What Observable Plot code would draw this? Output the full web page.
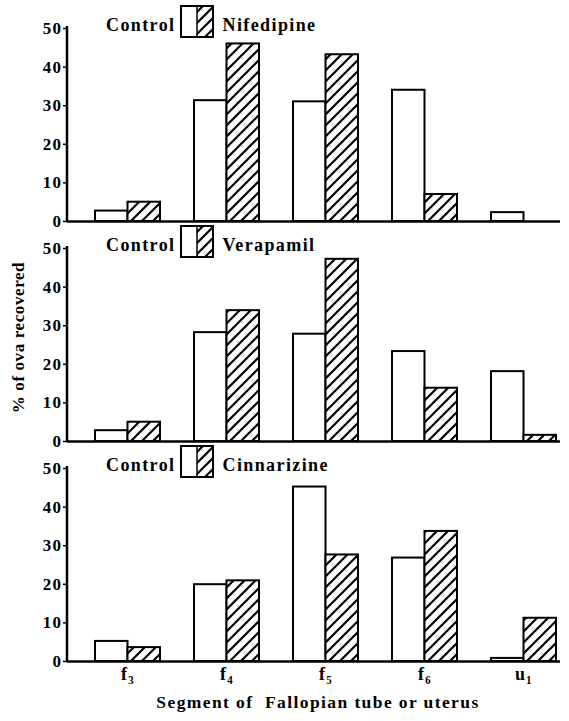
<!DOCTYPE html>
<html>
<head>
<meta charset="utf-8">
<script src="https://cdn.jsdelivr.net/npm/d3@7"></script>
<script src="https://cdn.jsdelivr.net/npm/@observablehq/plot@0.6"></script>
<style>
  html, body { margin: 0; padding: 0; background: #fff; }
  svg text { font-family: "Liberation Serif", serif !important; font-weight: bold !important; }
</style>
</head>
<body>
<div id="chart"></div>
<script>
// ---- data ----
const categories = ["f3", "f4", "f5", "f6", "u1"];
const tickLabels = ["f₃", "f₄", "f₅", "f₆", "u₁"];
const panels = ["Nifedipine", "Verapamil", "Cinnarizine"];
const control1 = [2.7, 31.3, 31.0, 34.0, 2.3];
const nifedipine = [5.0, 46.0, 43.2, 7.0, 0];
const control2 = [2.8, 28.2, 27.8, 23.3, 18.1];
const verapamil = [5.0, 33.9, 47.2, 13.8, 1.6];
const control3 = [5.2, 19.9, 45.2, 26.8, 0.8];
const cinnarizine = [3.6, 20.9, 27.6, 33.7, 11.2];
const yTicks = [0, 10, 20, 30, 40, 50];
const yLabel = "% of ova recovered";
const xLabel = "Segment of  Fallopian tube or uterus";

const FONT = "Liberation Serif";

const controlSeries = [control1, control2, control3];
const drugSeries = [nifedipine, verapamil, cinnarizine];
const controlRows = [], drugRows = [];
panels.forEach((p, i) => {
  categories.forEach((c, j) => {
    controlRows.push({panel: p, cat: c, value: controlSeries[i][j]});
    drugRows.push({panel: p, cat: c, value: drugSeries[i][j]});
  });
});
const labelMap = new Map(categories.map((c, i) => [c, tickLabels[i]]));

const svg = Plot.plot({
  width: 569,
  height: 721,
  marginLeft: 67,
  marginRight: 9,
  marginTop: 28,
  marginBottom: 60,
  style: `background: white; overflow: visible; font-family: ${FONT}; font-weight: bold;`,
  fy: {domain: panels, axis: null, paddingInner: 0.123, paddingOuter: 0},
  x: {type: "band", domain: categories, range: [77, 574], padding: 0},
  y: {domain: [0, 50]},
  marks: [
    Plot.barY(controlRows, {x: "cat", y: "value", fy: "panel", fill: "white", stroke: "black", strokeWidth: 2, insetLeft: 17, insetRight: 49.5}),
    Plot.barY(drugRows.filter(d => d.value > 0), {x: "cat", y: "value", fy: "panel", fill: "url(#hatch)", stroke: "black", strokeWidth: 2, insetLeft: 49.5, insetRight: 17}),
    Plot.ruleY([0], {stroke: "black", strokeWidth: 2.5}),
    Plot.axisY({ticks: yTicks, tickSize: 4, tickPadding: 1, fontSize: 17, fontFamily: FONT, fontWeight: "bold", strokeWidth: 1.5, label: null}),
    Plot.axisX({tickSize: 0, tickPadding: 6, fontSize: 18, fontFamily: FONT, fontWeight: "bold", tickFormat: d => labelMap.get(d), label: null}),
    Plot.text([xLabel], {frameAnchor: "bottom", fy: () => panels[2], dy: 41, dx: 4, fontSize: 17.5, fontFamily: FONT, fontWeight: "bold", lineAnchor: "middle"}),
    Plot.text(panels, {fy: d => d, text: () => "Control", frameAnchor: "top-left", dx: 108, dy: -3, textAnchor: "end", fontSize: 18, fontFamily: FONT, fontWeight: "bold", lineAnchor: "middle"}),
    Plot.text(panels, {fy: d => d, text: d => d, frameAnchor: "top-left", dx: 155, dy: -3, textAnchor: "start", fontSize: 18, fontFamily: FONT, fontWeight: "bold", lineAnchor: "middle"})
  ]
});

const s = d3.select(svg);
svg.querySelectorAll("text").forEach(t => {
  const prev = t.getAttribute("style") || "";
  t.setAttribute("style", prev + ";font-family:'Liberation Serif',serif;font-weight:bold;letter-spacing:1.4px");
});

// hatch pattern
const defs = s.insert("defs", ":first-child");
const pat = defs.append("pattern").attr("id", "hatch").attr("patternUnits", "userSpaceOnUse")
  .attr("width", 11).attr("height", 11);
pat.append("rect").attr("width", 11).attr("height", 11).attr("fill", "white");
pat.append("path").attr("d", "M-2.75,2.75L2.75,-2.75M0,11L11,0M8.25,13.75L13.75,8.25")
  .attr("stroke", "black").attr("stroke-width", 2.2);

const fy = svg.scale("fy");
const y = svg.scale("y");
const off = p => fy.apply(p) - fy.apply(panels[0]);
panels.forEach(p => {
  const o = off(p);
  const top = y.apply(50) + o;
  const g = s.append("g");
  g.append("line").attr("x1", 67).attr("x2", 67)
    .attr("y1", top - 2).attr("y2", y.apply(0) + o)
    .attr("stroke", "black").attr("stroke-width", 2.5);
  g.append("rect").attr("x", 181).attr("y", top - 22).attr("width", 16).attr("height", 31)
    .attr("fill", "white");
  g.append("rect").attr("x", 197).attr("y", top - 22).attr("width", 16).attr("height", 31)
    .attr("fill", "url(#hatch)");
  g.append("rect").attr("x", 181).attr("y", top - 22).attr("width", 32).attr("height", 31)
    .attr("fill", "none").attr("stroke", "black").attr("stroke-width", 2);
  g.append("line").attr("x1", 197).attr("x2", 197).attr("y1", top - 22).attr("y2", top + 9)
    .attr("stroke", "black").attr("stroke-width", 1.5);
});

// y-axis title, centred on the stack of panels
const yMid = (y.apply(50) + y.apply(0) + off(panels[2])) / 2 - 7;
const yt = document.createElementNS("http://www.w3.org/2000/svg", "text");
yt.setAttribute("transform", `translate(20,${yMid}) rotate(-90)`);
yt.setAttribute("text-anchor", "middle");
yt.setAttribute("dominant-baseline", "middle");
yt.setAttribute("style", "font-family:'Liberation Serif',serif;font-weight:bold;font-size:17px;letter-spacing:0.6px");
yt.textContent = yLabel;
svg.appendChild(yt);

document.getElementById("chart").appendChild(svg);
</script>
</body>
</html>
